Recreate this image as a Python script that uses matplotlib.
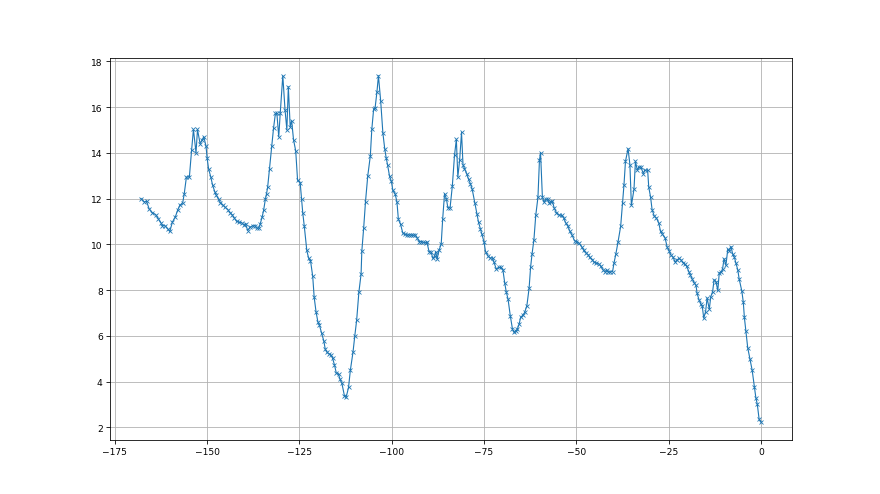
import matplotlib

matplotlib.use("Agg")
import matplotlib.pyplot as plt

# values
x_vals = [
    -167.9, -167.0, -166.4, -165.7, -164.8, -163.9, -163.2, -162.5, -162.1, -161.3,
    -160.7, -160.1, -159.4, -158.6, -158.0, -157.4, -156.6, -156.2, -155.6, -154.8,
    -154.2, -153.7, -153.0, -152.6, -151.9, -151.4, -150.9, -150.3, -150.0, -149.6,
    -149.0, -148.5, -147.9, -147.5, -146.9, -146.4, -145.8, -145.2, -144.4, -143.8,
    -143.2, -142.6, -142.0, -141.3, -140.6, -140.1, -139.6, -139.0, -138.4, -137.7,
    -137.0, -136.6, -136.0, -135.6, -135.1, -134.7, -134.2, -133.9, -133.6, -133.1,
    -132.5, -132.0, -131.5, -131.1, -130.6, -130.2, -129.5, -128.9, -128.4, -128.0,
    -127.5, -127.1, -126.6, -126.0, -125.5, -124.8, -124.4, -124.1, -123.7, -123.0,
    -122.5, -122.0, -121.4, -121.0, -120.5, -120.0, -119.6, -119.0, -118.4, -118.0,
    -117.5, -116.9, -116.4, -116.0, -115.5, -115.0, -114.4, -114.0, -113.5, -112.8,
    -112.3, -111.7, -111.2, -110.5, -110.0, -109.5, -108.9, -108.3, -108.1, -107.6,
    -107.1, -106.5, -105.8, -105.4, -104.9, -104.5, -104.0, -103.6, -103.0, -102.4,
    -101.9, -101.5, -101.1, -100.6, -100.1, -99.7, -99.1, -98.6, -98.2, -97.6,
    -97.0, -96.5, -95.9, -95.4, -94.7, -94.3, -93.6, -93.1, -92.5, -92.0,
    -91.4, -90.8, -90.5, -89.9, -89.3, -88.9, -88.4, -88.1, -87.7, -87.2,
    -86.6, -86.2, -85.7, -85.2, -84.8, -84.2, -83.6, -83.0, -82.5, -82.1,
    -81.6, -81.1, -80.7, -80.3, -79.7, -79.2, -78.7, -78.2, -77.5, -76.9,
    -76.5, -76.0, -75.6, -75.0, -74.6, -73.9, -73.3, -72.7, -72.3, -71.7,
    -71.0, -70.5, -69.9, -69.4, -69.0, -68.5, -67.9, -67.3, -66.9, -66.4,
    -66.0, -65.5, -65.1, -64.5, -64.0, -63.4, -62.8, -62.4, -62.0, -61.5,
    -61.0, -60.4, -60.0, -59.7, -59.2, -58.8, -58.3, -57.8, -57.4, -56.9,
    -56.5, -56.0, -55.4, -54.7, -54.0, -53.4, -52.9, -52.3, -51.8, -51.2,
    -50.5, -50.0, -49.3, -48.6, -48.0, -47.5, -46.8, -46.4, -45.7, -45.2,
    -44.6, -43.9, -43.4, -42.8, -42.3, -41.8, -41.4, -40.8, -40.2, -39.8,
    -39.3, -38.7, -38.0, -37.5, -37.1, -36.7, -36.0, -35.5, -35.1, -34.4,
    -34.0, -33.5, -33.1, -32.5, -31.9, -31.5, -30.7, -30.4, -29.9, -29.5,
    -28.9, -28.3, -27.7, -27.2, -26.7, -26.0, -25.4, -24.9, -24.4, -23.8,
    -23.3, -22.7, -22.2, -21.7, -21.1, -20.6, -20.1, -19.5, -19.1, -18.6,
    -18.1, -17.6, -17.3, -16.8, -16.3, -15.9, -15.5, -15.0, -14.6, -14.0,
    -13.6, -13.1, -12.7, -12.2, -11.7, -11.3, -10.8, -10.4, -10.0, -9.5,
    -9.0, -8.6, -8.1, -7.7, -7.2, -6.8, -6.3, -5.9, -5.2, -4.8,
    -4.5, -4.1, -3.6, -3.0, -2.4, -1.8, -1.4, -1.0, -0.5, 0.0,
]
y_vals = [
    12.00, 11.85, 11.88, 11.55, 11.38, 11.29, 11.11, 10.94, 10.82, 10.80,
    10.68, 10.56, 10.97, 11.20, 11.48, 11.70, 11.82, 12.20, 12.94, 12.94,
    14.11, 15.02, 14.00, 15.02, 14.40, 14.55, 14.70, 14.30, 13.78, 13.30,
    12.94, 12.58, 12.29, 12.14, 11.96, 11.82, 11.73, 11.63, 11.52, 11.38,
    11.29, 11.14, 11.00, 10.97, 10.94, 10.85, 10.90, 10.60, 10.75, 10.80,
    10.82, 10.71, 10.71, 10.90, 11.19, 11.48, 11.99, 12.21, 12.50, 13.30,
    14.30, 15.09, 15.72, 15.72, 14.70, 15.72, 17.37, 15.89, 15.00, 16.89,
    15.14, 15.40, 14.58, 14.08, 12.80, 12.70, 11.96, 11.38, 10.82, 9.73,
    9.39, 9.29, 8.60, 7.68, 7.05, 6.61, 6.48, 6.12, 5.78, 5.41,
    5.27, 5.20, 5.15, 5.01, 4.72, 4.36, 4.32, 4.10, 3.92, 3.37,
    3.34, 3.74, 4.50, 5.27, 6.00, 6.68, 7.90, 8.70, 9.70, 10.71,
    11.87, 12.98, 13.86, 15.02, 15.91, 15.97, 16.67, 17.37, 16.28, 14.87,
    14.18, 13.78, 13.45, 12.98, 12.75, 12.36, 12.21, 11.87, 11.09, 10.87,
    10.49, 10.43, 10.41, 10.41, 10.41, 10.39, 10.41, 10.27, 10.12, 10.12,
    10.08, 10.06, 10.12, 9.68, 9.66, 9.39, 9.48, 9.68, 9.36, 9.73,
    10.02, 11.11, 12.21, 11.99, 11.60, 11.60, 12.53, 13.89, 14.59, 12.94,
    13.70, 14.89, 13.48, 13.31, 13.09, 12.84, 12.65, 12.40, 11.82, 11.33,
    10.97, 10.68, 10.46, 10.10, 9.68, 9.48, 9.40, 9.40, 9.21, 8.92,
    8.99, 8.99, 8.89, 8.31, 7.93, 7.60, 6.88, 6.29, 6.15, 6.22,
    6.29, 6.51, 6.80, 6.90, 7.02, 7.32, 8.08, 8.99, 9.58, 10.19,
    11.26, 12.06, 13.67, 14.01, 12.06, 11.85, 11.96, 11.99, 11.82, 11.87,
    11.89, 11.58, 11.38, 11.29, 11.26, 11.14, 10.94, 10.79, 10.58, 10.41,
    10.16, 10.12, 10.05, 9.90, 9.73, 9.63, 9.54, 9.43, 9.33, 9.21,
    9.19, 9.14, 9.04, 8.89, 8.80, 8.89, 8.78, 8.80, 8.80, 9.19,
    9.58, 10.12, 10.79, 11.82, 12.61, 13.63, 14.18, 13.48, 11.70, 12.40,
    13.63, 13.24, 13.38, 13.38, 13.09, 13.24, 13.24, 12.50, 12.06, 11.52,
    11.23, 11.14, 10.94, 10.56, 10.44, 10.29, 9.87, 9.72, 9.53, 9.43,
    9.23, 9.32, 9.38, 9.32, 9.20, 9.13, 9.03, 8.79, 8.65, 8.47,
    8.32, 8.20, 7.85, 7.58, 7.40, 7.28, 6.77, 7.06, 7.65, 7.16,
    7.71, 7.93, 8.45, 8.37, 7.98, 8.75, 8.78, 8.93, 9.37, 9.08,
    9.78, 9.72, 9.90, 9.58, 9.43, 9.18, 8.89, 8.47, 7.96, 7.48,
    6.80, 6.21, 5.48, 5.00, 4.50, 3.78, 3.30, 3.00, 2.34, 2.22,
]

fig, ax = plt.subplots(figsize=(12, 6.75), dpi=880 / 12)
ax.plot(x_vals, y_vals, marker="x", color="#1f77b4", lw=1.1, ms=4, mew=0.8)
ax.grid(True)
ax.tick_params(labelsize=9)
fig.savefig("out.png", dpi=880 / 12)
